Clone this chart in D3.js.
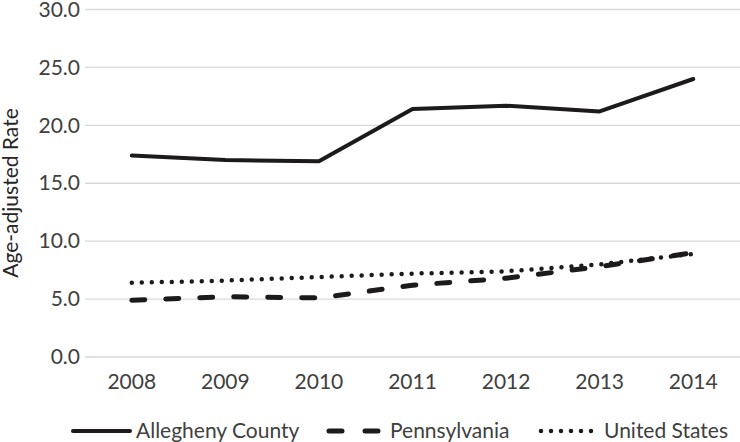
<!DOCTYPE html>
<html><head><meta charset="utf-8">
<script src="https://cdn.jsdelivr.net/npm/d3@7"></script>
<style>body{margin:0;background:#fff}svg{display:block}</style>
</head><body>
<svg id="c" width="740" height="442"></svg>
<script>
const years = ["2008","2009","2010","2011","2012","2013","2014"];
const allegheny = [17.4, 17.0, 16.9, 21.4, 21.7, 21.2, 24.0];
const pennsylvania = [4.9, 5.2, 5.1, 6.2, 6.8, 7.8, 9.0];
const unitedStates = [6.4, 6.6, 6.9, 7.2, 7.4, 8.0, 8.9];
const yTicks = [0, 5, 10, 15, 20, 25, 30];
const seriesNames = ["Allegheny County", "Pennsylvania", "United States"];

(function () {
const svg = d3.select("#c");
const font = "Lato, 'Open Sans', sans-serif";
const textColor = "#404040";
const fs = 21;
const plotLeft = 85, plotRight = 740, plotTop = 9.5, plotBottom = 357;

const x = d3.scaleBand().domain(years).range([plotLeft, plotRight]);
const y = d3.scaleLinear().domain([0, 30]).range([plotBottom, plotTop]);

// gridlines
svg.append("g").selectAll("line").data(yTicks).join("line")
  .attr("x1", plotLeft).attr("x2", plotRight)
  .attr("y1", d => y(d)).attr("y2", d => y(d))
  .attr("stroke", "#d9d9d9").attr("stroke-width", 1.3);

// y axis labels
const yAxis = svg.append("g").attr("transform", `translate(${plotLeft},0)`)
  .call(d3.axisLeft(y).tickValues(yTicks).tickFormat(d3.format(".1f")).tickSize(0).tickPadding(5));
yAxis.select(".domain").remove();
yAxis.selectAll("text").attr("font-family", font).attr("font-size", fs).attr("fill", textColor);

// x axis labels
const xAxis = svg.append("g").attr("transform", `translate(0,${plotBottom})`)
  .call(d3.axisBottom(x).tickSize(0).tickPadding(17));
xAxis.select(".domain").remove();
xAxis.selectAll("text").attr("font-family", font).attr("font-size", fs).attr("fill", textColor);

// y title
svg.append("text")
  .attr("transform", "translate(18,193) rotate(-90)")
  .attr("text-anchor", "middle")
  .attr("font-family", font).attr("font-size", fs).attr("fill", "#262626")
  .text("Age-adjusted Rate");

const line = d3.line().x((d, i) => x(years[i]) + x.bandwidth() / 2).y(d => y(d));

const styles = [
  {w: 4, dash: null, cap: "round"},
  {w: 5, dash: "13,21", cap: "round"},
  {w: 4.5, dash: "0,10", cap: "round"}
];
const data = [allegheny, pennsylvania, unitedStates];

data.forEach((vals, k) => {
  svg.append("path").datum(vals)
    .attr("d", line)
    .attr("fill", "none")
    .attr("stroke", "#1c1a1b")
    .attr("stroke-width", styles[k].w)
    .attr("stroke-linecap", styles[k].cap)
    .attr("stroke-linejoin", "round")
    .attr("stroke-dasharray", styles[k].dash);
});

// legend
const legendY = 431;
const legendItems = [
  {x1: 73, x2: 130, tx: 136, dash: null},
  {x1: 329, x2: 378, tx: 390, dash: "13,23"},
  {x1: 541, x2: 592, tx: 604, dash: "0,10"}
];
legendItems.forEach((it, k) => {
  svg.append("line")
    .attr("x1", it.x1).attr("x2", it.x2).attr("y1", legendY).attr("y2", legendY)
    .attr("stroke", "#1c1a1b")
    .attr("stroke-width", styles[k].w)
    .attr("stroke-linecap", styles[k].cap)
    .attr("stroke-dasharray", it.dash);
  svg.append("text")
    .attr("x", it.tx).attr("y", legendY).attr("dy", "0.35em")
    .attr("font-family", font).attr("font-size", fs).attr("fill", textColor)
    .text(seriesNames[k]);
});
})();
</script>
</body></html>
